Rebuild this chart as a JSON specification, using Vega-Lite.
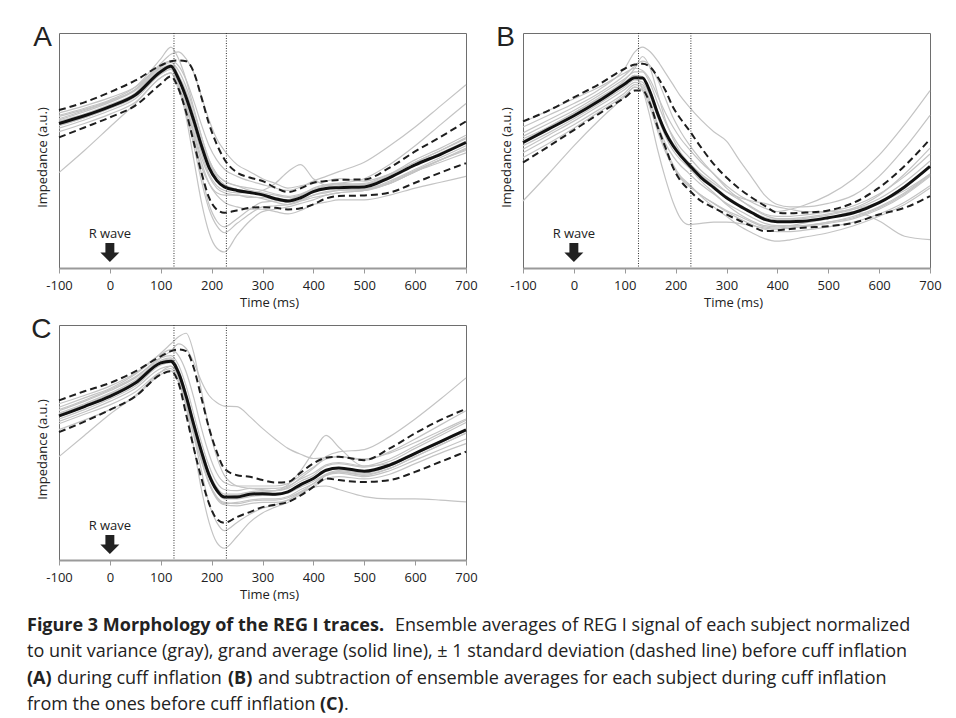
{
  "$schema": "https://vega.github.io/schema/vega-lite/v6.json",
  "padding": {"left": 27, "top": 23, "right": 5, "bottom": 5},
  "background": "white",
  "config": {
    "view": {"stroke": "#6e6e6e", "strokeWidth": 1},
    "axisX": {"grid": false, "tickCount": 8, "domainColor": "#9a9a9a", "domainWidth": 2, "tickColor": "#9a9a9a", "tickSize": 5,
      "labelFont": "Open Sans", "labelFontSize": 13, "labelColor": "#222", "labelPadding": 6, "labelFlush": false, "labelOverlap": false,
      "labelExpr": "'' + datum.value",
      "titleFont": "Open Sans", "titleFontSize": 13, "titleFontWeight": "normal", "titleColor": "#222",
      "titleX": 210, "titleY": 38, "titleBaseline": "alphabetic", "titleAlign": "center"},
    "axisY": {"grid": false, "labels": false, "ticks": false, "domain": false,
      "titleFont": "Open Sans", "titleFontSize": 13, "titleFontWeight": "normal", "titleColor": "#222",
      "titleX": -13, "titleY": 124, "titleBaseline": "alphabetic", "titleAlign": "center", "titleAngle": -90}
  },
  "datasets": {
    "traces": [
      {"p":"A","t":-100,"m":61.5,"u":67.2,"l":55.6,"g1":63,"g2":59.5,"g3":66,"g4":40.6,"g5":62,"g6":60.5,"g7":64.5,"g8":65,"g9":61,"g10":58,"g11":63.5,"g12":62.5},
      {"p":"A","t":-50,"m":64.8,"u":70.5,"l":59.8,"g1":66.5,"g2":63,"g3":69,"g4":50,"g5":65.5,"g6":64,"g7":67.5,"g8":68,"g9":64,"g10":61.5,"g11":67,"g12":65.5},
      {"p":"A","t":0,"m":68.7,"u":74.8,"l":64.1,"g1":70.5,"g2":67,"g3":72.5,"g4":60,"g5":69.5,"g6":68,"g7":71,"g8":71.5,"g9":68,"g10":65.5,"g11":71,"g12":69},
      {"p":"A","t":50,"m":73.6,"u":79.8,"l":69.1,"g1":75.5,"g2":72,"g3":77,"g4":70,"g5":74.5,"g6":73,"g7":76,"g8":77,"g9":73,"g10":70.5,"g11":76,"g12":74},
      {"p":"A","t":100,"m":83.5,"u":86.2,"l":78.3,"g1":85.5,"g2":82.5,"g3":86,"g4":81,"g5":85,"g6":84,"g7":87,"g8":89,"g9":84,"g10":81,"g11":86.5,"g12":84.5},
      {"p":"A","t":120,"m":85.8,"u":88.0,"l":81.5,"g1":87.5,"g2":84.5,"g3":88,"g4":83,"g5":86,"g6":85,"g7":91,"g8":94,"g9":86,"g10":83,"g11":88,"g12":86.5},
      {"p":"A","t":135,"m":80.5,"u":88.3,"l":76.2,"g1":84,"g2":78,"g3":86,"g4":76,"g5":78,"g6":77,"g7":92,"g8":89,"g9":80,"g10":77,"g11":81,"g12":82},
      {"p":"A","t":150,"m":72.6,"u":88.0,"l":66.2,"g1":77,"g2":69,"g3":80,"g4":66,"g5":64,"g6":66,"g7":89,"g8":80,"g9":71,"g10":68,"g11":70,"g12":75},
      {"p":"A","t":165,"m":62.7,"u":83.3,"l":53.4,"g1":67,"g2":58,"g3":71,"g4":54,"g5":46,"g6":52,"g7":83,"g8":68,"g9":60,"g10":57,"g11":56,"g12":65},
      {"p":"A","t":180,"m":52.0,"u":72.6,"l":40.6,"g1":56,"g2":47,"g3":61,"g4":43,"g5":28,"g6":37,"g7":73,"g8":56,"g9":49,"g10":45,"g11":40,"g12":54},
      {"p":"A","t":195,"m":42.7,"u":61.3,"l":29.9,"g1":46,"g2":39,"g3":52,"g4":36,"g5":15,"g6":25,"g7":63,"g8":46,"g9":40,"g10":36,"g11":27,"g12":45},
      {"p":"A","t":210,"m":37.3,"u":52.7,"l":24.9,"g1":40,"g2":34,"g3":46,"g4":32,"g5":8.5,"g6":18,"g7":55,"g8":40,"g9":35,"g10":31,"g11":20,"g12":39},
      {"p":"A","t":225,"m":34.5,"u":46.3,"l":23.5,"g1":37,"g2":32,"g3":42,"g4":31,"g5":6.8,"g6":15,"g7":50,"g8":37,"g9":33,"g10":28,"g11":17.5,"g12":35.5},
      {"p":"A","t":250,"m":33.0,"u":40.6,"l":24.5,"g1":35,"g2":31,"g3":39,"g4":31,"g5":14,"g6":19,"g7":44,"g8":35,"g9":32,"g10":26,"g11":21,"g12":33.5},
      {"p":"A","t":275,"m":32.1,"u":38.5,"l":25.6,"g1":34,"g2":30.5,"g3":37,"g4":30,"g5":20,"g6":23,"g7":41,"g8":33,"g9":32,"g10":25,"g11":25,"g12":32.5},
      {"p":"A","t":300,"m":31.1,"u":37.0,"l":25.9,"g1":33,"g2":29.5,"g3":35.5,"g4":30,"g5":24,"g6":26,"g7":38,"g8":32,"g9":33,"g10":25,"g11":28,"g12":31.5},
      {"p":"A","t":325,"m":29.5,"u":34.2,"l":25.6,"g1":31.5,"g2":28,"g3":34,"g4":29,"g5":25,"g6":26.5,"g7":36,"g8":31,"g9":36,"g10":24,"g11":28.5,"g12":30},
      {"p":"A","t":350,"m":28.5,"u":32.3,"l":24.9,"g1":30.5,"g2":27,"g3":33,"g4":28,"g5":26,"g6":27,"g7":34,"g8":30,"g9":41,"g10":23,"g11":29,"g12":29},
      {"p":"A","t":375,"m":29.9,"u":33.9,"l":25.4,"g1":31.5,"g2":28.5,"g3":34.5,"g4":28.5,"g5":27.5,"g6":29,"g7":35,"g8":31,"g9":44,"g10":24.5,"g11":31,"g12":31},
      {"p":"A","t":400,"m":32.5,"u":36.3,"l":27.1,"g1":33.5,"g2":31,"g3":37,"g4":30,"g5":29,"g6":31,"g7":36,"g8":33,"g9":38,"g10":27,"g11":33,"g12":34},
      {"p":"A","t":425,"m":33.8,"u":37.0,"l":29.6,"g1":35,"g2":32.5,"g3":39,"g4":31,"g5":31,"g6":32,"g7":37,"g8":34,"g9":35,"g10":28,"g11":35,"g12":35.5},
      {"p":"A","t":450,"m":34.2,"u":37.5,"l":30.6,"g1":35.5,"g2":33,"g3":41,"g4":32,"g5":32,"g6":33,"g7":38,"g8":35,"g9":34,"g10":29,"g11":36,"g12":36},
      {"p":"A","t":500,"m":34.5,"u":37.7,"l":30.9,"g1":36,"g2":33.5,"g3":45,"g4":33,"g5":33,"g6":33.5,"g7":37,"g8":35.5,"g9":33,"g10":29,"g11":38,"g12":35.5},
      {"p":"A","t":550,"m":38.5,"u":42.7,"l":32.1,"g1":40,"g2":36.5,"g3":52,"g4":36,"g5":36,"g6":37,"g7":40,"g8":39,"g9":36,"g10":31,"g11":44,"g12":39.5},
      {"p":"A","t":600,"m":43.9,"u":49.6,"l":36.3,"g1":46,"g2":41.5,"g3":60,"g4":41,"g5":41,"g6":42,"g7":45,"g8":44,"g9":41,"g10":34,"g11":52,"g12":45},
      {"p":"A","t":650,"m":48.4,"u":55.8,"l":40.6,"g1":51,"g2":46,"g3":69,"g4":45,"g5":46,"g6":47,"g7":50,"g8":49,"g9":46,"g10":36.5,"g11":61,"g12":50},
      {"p":"A","t":700,"m":53.4,"u":62.4,"l":44.6,"g1":56.5,"g2":50.5,"g3":78,"g4":49,"g5":51,"g6":52,"g7":55,"g8":54,"g9":50,"g10":39,"g11":70,"g12":55.5},

      {"p":"B","t":-100,"m":53.4,"u":62.4,"l":44.9,"g1":56,"g2":50.5,"g3":28.5,"g4":60,"g5":55,"g6":62,"g7":52,"g8":49,"g9":57.5,"g10":54,"g11":47,"g12":53.5},
      {"p":"B","t":-50,"m":59.1,"u":67.0,"l":51.7,"g1":61.5,"g2":56.5,"g3":40,"g4":65,"g5":60,"g6":67,"g7":57.5,"g8":55,"g9":63,"g10":60,"g11":53,"g12":59},
      {"p":"B","t":0,"m":64.8,"u":72.6,"l":58.7,"g1":67,"g2":62.5,"g3":52,"g4":70,"g5":66,"g6":72,"g7":63.5,"g8":61,"g9":68.5,"g10":66,"g11":59.5,"g12":65},
      {"p":"B","t":50,"m":71.2,"u":78.3,"l":65.7,"g1":73.5,"g2":69,"g3":63,"g4":76,"g5":72,"g6":77,"g7":70,"g8":67.5,"g9":74.5,"g10":72.5,"g11":66.5,"g12":71.5},
      {"p":"B","t":100,"m":78.3,"u":84.8,"l":72.5,"g1":80.5,"g2":76,"g3":73,"g4":85,"g5":79,"g6":83,"g7":77,"g8":74.5,"g9":82,"g10":80,"g11":73.5,"g12":79},
      {"p":"B","t":120,"m":81.0,"u":86.6,"l":75.5,"g1":83.5,"g2":79,"g3":77,"g4":92,"g5":82,"g6":85,"g7":80,"g8":78,"g9":86,"g10":85,"g11":77,"g12":82},
      {"p":"B","t":135,"m":80.9,"u":86.9,"l":75.5,"g1":83.5,"g2":78,"g3":76,"g4":94,"g5":76,"g6":84,"g7":79,"g8":77,"g9":88,"g10":90,"g11":75.5,"g12":81.5},
      {"p":"B","t":150,"m":74.8,"u":85.5,"l":69.8,"g1":78.5,"g2":71,"g3":70,"g4":92,"g5":64,"g6":80,"g7":73,"g8":70,"g9":86,"g10":85,"g11":68,"g12":75.5},
      {"p":"B","t":165,"m":65.5,"u":81.2,"l":59.8,"g1":70,"g2":61,"g3":60,"g4":88,"g5":50,"g6":73,"g7":64,"g8":60,"g9":80,"g10":74,"g11":58,"g12":66.5},
      {"p":"B","t":180,"m":57.7,"u":75.5,"l":51.3,"g1":62,"g2":53,"g3":50,"g4":83,"g5":38,"g6":66,"g7":56,"g8":51,"g9":72,"g10":63,"g11":49.5,"g12":58.5},
      {"p":"B","t":195,"m":52.0,"u":68.4,"l":42.7,"g1":56,"g2":47.5,"g3":43,"g4":78,"g5":28,"g6":60,"g7":50,"g8":44,"g9":64,"g10":55,"g11":43,"g12":53},
      {"p":"B","t":210,"m":47.7,"u":63.4,"l":37.0,"g1":51,"g2":43.5,"g3":38,"g4":73,"g5":21,"g6":55,"g7":46,"g8":39,"g9":58,"g10":49,"g11":38.5,"g12":48.5},
      {"p":"B","t":225,"m":44.2,"u":59.1,"l":33.5,"g1":47.5,"g2":40.5,"g3":35,"g4":69,"g5":18.5,"g6":51,"g7":43,"g8":36,"g9":53,"g10":45,"g11":35.5,"g12":45},
      {"p":"B","t":250,"m":38.5,"u":51.3,"l":28.5,"g1":41.5,"g2":35.5,"g3":31,"g4":63,"g5":19,"g6":45,"g7":37,"g8":30.5,"g9":46,"g10":40,"g11":31,"g12":39.5},
      {"p":"B","t":275,"m":34.2,"u":44.2,"l":25.6,"g1":37,"g2":31.5,"g3":27.5,"g4":58,"g5":19.5,"g6":40,"g7":32,"g8":26,"g9":40,"g10":36,"g11":27.5,"g12":35},
      {"p":"B","t":300,"m":29.9,"u":38.5,"l":22.8,"g1":32.5,"g2":27.5,"g3":24.5,"g4":54,"g5":19.5,"g6":35,"g7":27,"g8":22,"g9":34,"g10":32.5,"g11":24,"g12":30.5},
      {"p":"B","t":325,"m":26.5,"u":33.8,"l":20.2,"g1":29,"g2":24.5,"g3":22,"g4":46,"g5":19,"g6":31,"g7":23,"g8":18,"g9":29.5,"g10":30,"g11":21,"g12":27},
      {"p":"B","t":350,"m":23.5,"u":29.9,"l":17.8,"g1":26,"g2":21.5,"g3":19.5,"g4":38.5,"g5":18,"g6":28,"g7":20,"g8":15,"g9":25.5,"g10":28.5,"g11":18.5,"g12":24},
      {"p":"B","t":375,"m":20.7,"u":26.5,"l":15.7,"g1":23,"g2":19,"g3":17.5,"g4":31,"g5":17,"g6":25.5,"g7":18,"g8":12.5,"g9":22.5,"g10":27.5,"g11":16.5,"g12":21.5},
      {"p":"B","t":400,"m":19.7,"u":23.5,"l":16.0,"g1":22,"g2":18,"g3":17,"g4":27,"g5":16.5,"g6":24,"g7":17.5,"g8":11.4,"g9":21,"g10":26,"g11":15.5,"g12":20.5},
      {"p":"B","t":425,"m":19.7,"u":23.3,"l":16.6,"g1":22,"g2":18,"g3":17.5,"g4":26,"g5":17,"g6":25,"g7":18,"g8":12,"g9":21,"g10":25,"g11":15.5,"g12":20.5},
      {"p":"B","t":450,"m":19.9,"u":23.5,"l":17.1,"g1":22.5,"g2":18,"g3":18,"g4":26,"g5":17.5,"g6":26.5,"g7":19,"g8":13,"g9":21.5,"g10":24,"g11":16,"g12":21},
      {"p":"B","t":500,"m":21.4,"u":24.5,"l":17.8,"g1":24,"g2":19.5,"g3":19.5,"g4":27.5,"g5":19,"g6":31,"g7":21,"g8":15,"g9":23,"g10":24,"g11":17.5,"g12":22.5},
      {"p":"B","t":550,"m":23.5,"u":27.8,"l":19.2,"g1":26.5,"g2":21.5,"g3":22,"g4":31,"g5":21,"g6":38,"g7":24,"g8":18,"g9":25.5,"g10":25,"g11":19.5,"g12":25},
      {"p":"B","t":600,"m":27.8,"u":34.2,"l":22.8,"g1":31.5,"g2":25.5,"g3":26,"g4":39,"g5":25,"g6":48,"g7":20,"g8":22,"g9":31,"g10":28,"g11":23,"g12":29.5},
      {"p":"B","t":650,"m":34.5,"u":43.4,"l":25.6,"g1":39,"g2":31.5,"g3":32,"g4":51,"g5":31,"g6":61,"g7":13.5,"g8":27,"g9":40,"g10":33,"g11":28,"g12":36.5},
      {"p":"B","t":700,"m":43.2,"u":54.8,"l":30.6,"g1":48.5,"g2":39.5,"g3":40,"g4":65,"g5":39,"g6":75.5,"g7":12.1,"g8":34,"g9":51,"g10":40,"g11":35,"g12":45.5},

      {"p":"C","t":-100,"m":61.3,"u":67.9,"l":54.4,"g1":63.5,"g2":59,"g3":44,"g4":64,"g5":61,"g6":65,"g7":58,"g8":62.5,"g9":60,"g10":62,"g11":66.5,"g12":55.5},
      {"p":"C","t":-50,"m":65.3,"u":71.8,"l":58.9,"g1":67.5,"g2":63,"g3":53,"g4":68,"g5":65,"g6":69,"g7":62,"g8":66.5,"g9":64,"g10":66,"g11":70,"g12":59.5},
      {"p":"C","t":0,"m":69.6,"u":75.3,"l":63.9,"g1":72,"g2":67.5,"g3":62,"g4":72.5,"g5":69.5,"g6":73,"g7":66,"g8":71,"g9":68.5,"g10":70.5,"g11":74,"g12":64},
      {"p":"C","t":50,"m":75.3,"u":80.3,"l":69.6,"g1":77.5,"g2":73,"g3":70,"g4":78,"g5":75,"g6":79,"g7":71.5,"g8":76.5,"g9":74,"g10":76,"g11":79.5,"g12":69.5},
      {"p":"C","t":100,"m":83.9,"u":86.7,"l":78.9,"g1":86,"g2":81.5,"g3":80,"g4":86,"g5":84,"g6":88,"g7":80,"g8":85,"g9":83,"g10":84.5,"g11":87.5,"g12":79},
      {"p":"C","t":120,"m":84.6,"u":88.9,"l":80.3,"g1":87,"g2":82.5,"g3":82.5,"g4":89,"g5":85,"g6":92,"g7":81.5,"g8":86,"g9":84,"g10":85.5,"g11":89.5,"g12":80.5},
      {"p":"C","t":135,"m":79.6,"u":89.6,"l":75.3,"g1":83,"g2":77,"g3":78,"g4":92,"g5":78,"g6":95,"g7":76,"g8":81,"g9":79,"g10":80,"g11":87,"g12":75.5},
      {"p":"C","t":150,"m":69.6,"u":88.9,"l":61.8,"g1":74,"g2":66,"g3":68,"g4":90,"g5":65,"g6":96.5,"g7":66,"g8":71,"g9":69.5,"g10":68,"g11":80,"g12":66},
      {"p":"C","t":165,"m":57.5,"u":81.7,"l":47.5,"g1":62,"g2":53,"g3":56,"g4":84,"g5":48,"g6":88,"g7":54,"g8":59,"g9":57,"g10":53,"g11":69,"g12":54},
      {"p":"C","t":180,"m":46.1,"u":68.9,"l":34.7,"g1":50,"g2":42,"g3":45,"g4":76,"g5":30,"g6":72,"g7":43,"g8":47.5,"g9":45.5,"g10":38,"g11":56,"g12":42.5},
      {"p":"C","t":195,"m":36.1,"u":56.1,"l":24.0,"g1":40,"g2":32.5,"g3":35.5,"g4":70,"g5":16,"g6":56,"g7":33,"g8":37.5,"g9":35.5,"g10":24,"g11":45,"g12":32.5},
      {"p":"C","t":210,"m":29.7,"u":46.1,"l":17.5,"g1":33,"g2":26.5,"g3":29,"g4":67,"g5":7.5,"g6":44,"g7":27,"g8":31,"g9":29.5,"g10":16,"g11":37,"g12":26},
      {"p":"C","t":225,"m":26.8,"u":38.9,"l":15.8,"g1":30,"g2":24,"g3":26,"g4":65.5,"g5":5,"g6":36,"g7":24.5,"g8":28,"g9":27,"g10":12.5,"g11":33,"g12":23.5},
      {"p":"C","t":250,"m":26.8,"u":36.1,"l":18.3,"g1":29.5,"g2":24.5,"g3":26,"g4":65.3,"g5":10,"g6":31.5,"g7":24,"g8":28,"g9":27.5,"g10":16,"g11":31.5,"g12":23},
      {"p":"C","t":275,"m":28.0,"u":35.4,"l":20.4,"g1":30.5,"g2":25.5,"g3":27,"g4":61,"g5":16,"g6":30.5,"g7":25,"g8":29,"g9":28.5,"g10":19.5,"g11":31.5,"g12":24},
      {"p":"C","t":300,"m":28.2,"u":34.0,"l":22.5,"g1":30.5,"g2":26,"g3":27.5,"g4":56,"g5":20,"g6":30,"g7":25.5,"g8":29.5,"g9":29,"g10":22,"g11":31.5,"g12":24.5},
      {"p":"C","t":325,"m":28.0,"u":33.0,"l":23.5,"g1":30.5,"g2":26,"g3":27.5,"g4":51.5,"g5":22.5,"g6":29.5,"g7":25.5,"g8":29.5,"g9":29.5,"g10":23.5,"g11":31.5,"g12":24.5},
      {"p":"C","t":350,"m":29.0,"u":33.2,"l":24.7,"g1":31.5,"g2":27,"g3":28.5,"g4":47.5,"g5":24.5,"g6":30.5,"g7":26.5,"g8":31,"g9":32,"g10":25.5,"g11":32.5,"g12":25.5},
      {"p":"C","t":375,"m":32.1,"u":37.2,"l":27.5,"g1":34.5,"g2":30,"g3":31,"g4":45,"g5":28,"g6":33.5,"g7":29,"g8":35,"g9":38,"g10":29,"g11":36,"g12":28.5},
      {"p":"C","t":400,"m":34.7,"u":41.1,"l":31.1,"g1":37,"g2":32.5,"g3":33.5,"g4":43.2,"g5":31.5,"g6":36,"g7":31,"g8":39,"g9":46,"g10":32.5,"g11":39.5,"g12":31},
      {"p":"C","t":425,"m":38.2,"u":43.5,"l":34.7,"g1":40.5,"g2":36,"g3":36.5,"g4":43.5,"g5":36,"g6":40,"g7":31.5,"g8":44,"g9":53,"g10":36.5,"g11":43,"g12":34.5},
      {"p":"C","t":450,"m":39.2,"u":43.9,"l":34.0,"g1":41.5,"g2":37,"g3":37.5,"g4":44,"g5":37.5,"g6":41,"g7":30,"g8":46,"g9":48,"g10":38,"g11":44,"g12":35.5},
      {"p":"C","t":500,"m":37.8,"u":42.5,"l":33.2,"g1":40,"g2":35.5,"g3":36.5,"g4":43,"g5":36,"g6":39.5,"g7":27,"g8":47,"g9":40,"g10":37,"g11":42.5,"g12":34.5},
      {"p":"C","t":550,"m":40.4,"u":47.5,"l":34.0,"g1":43,"g2":38,"g3":39,"g4":45.5,"g5":39,"g6":42,"g7":26,"g8":52.5,"g9":41,"g10":40,"g11":46,"g12":36.5},
      {"p":"C","t":600,"m":45.4,"u":53.9,"l":37.5,"g1":48.5,"g2":42.5,"g3":44,"g4":50,"g5":44,"g6":47.5,"g7":26,"g8":60,"g9":45.5,"g10":45,"g11":51.5,"g12":41},
      {"p":"C","t":650,"m":50.4,"u":59.6,"l":41.8,"g1":54,"g2":47,"g3":49,"g4":55,"g5":49,"g6":53,"g7":25.5,"g8":68.5,"g9":50,"g10":50,"g11":57.5,"g12":45.5},
      {"p":"C","t":700,"m":55.4,"u":64.3,"l":46.1,"g1":59.5,"g2":51.5,"g3":54,"g4":60,"g5":54,"g6":58.5,"g7":24.7,"g8":77.5,"g9":55,"g10":55.5,"g11":63.5,"g12":49.5}
    ],
    "caption": [
      {"line": 1, "seg": 1, "text": "Figure 3 Morphology of the REG I traces."},
      {"line": 1, "seg": 2, "text": "Ensemble averages of REG I signal of each subject normalized"},
      {"line": 2, "seg": 1, "text": "to unit variance (gray), grand average (solid line), ± 1 standard deviation (dashed line) before cuff inflation"},
      {"line": 3, "seg": 1, "text": "(A)"},
      {"line": 3, "seg": 2, "text": "during cuff inflation"},
      {"line": 3, "seg": 3, "text": "(B)"},
      {"line": 3, "seg": 4, "text": "and subtraction of ensemble averages for each subject during cuff inflation"},
      {"line": 4, "seg": 1, "text": "from the ones before cuff inflation"},
      {"line": 4, "seg": 2, "text": "(C)"},
      {"line": 4, "seg": 3, "text": "."}
    ]
  },
  "vconcat": [
    {
      "hconcat": [
        {
          "width": 407, "height": 235,
          "layer": [
            {"data": {"name": "traces"},
             "transform": [{"filter": "datum.p == 'A'"}, {"fold": ["g1","g2","g3","g4","g5","g6","g7","g8","g9","g10","g11","g12"], "as": ["s","v"]}],
             "mark": {"type": "line", "stroke": "#c4c4c4", "strokeWidth": 1.2, "interpolate": "monotone"},
             "encoding": {
               "x": {"field": "t", "type": "quantitative", "title": "Time (ms)", "scale": {"domain": [-100, 700], "nice": false, "zero": false}},
               "y": {"field": "v", "type": "quantitative", "title": "Impedance (a.u.)", "scale": {"domain": [0, 100], "nice": false, "zero": false}},
               "detail": {"field": "s"}}},
            {"data": {"name": "traces"},
             "transform": [{"filter": "datum.p == 'A'"}, {"fold": ["u","l"], "as": ["s","v"]}],
             "mark": {"type": "line", "stroke": "#1e1e1e", "strokeWidth": 2, "strokeDash": [7, 4], "interpolate": "monotone"},
             "encoding": {
               "x": {"field": "t", "type": "quantitative", "title": "Time (ms)", "scale": {"domain": [-100, 700], "nice": false, "zero": false}},
               "y": {"field": "v", "type": "quantitative", "title": "Impedance (a.u.)", "scale": {"domain": [0, 100], "nice": false, "zero": false}},
               "detail": {"field": "s"}}},
            {"data": {"name": "traces"},
             "transform": [{"filter": "datum.p == 'A'"}],
             "mark": {"type": "line", "stroke": "#111", "strokeWidth": 3, "interpolate": "monotone"},
             "encoding": {
               "x": {"field": "t", "type": "quantitative", "title": "Time (ms)", "scale": {"domain": [-100, 700], "nice": false, "zero": false}},
               "y": {"field": "m", "type": "quantitative", "title": "Impedance (a.u.)", "scale": {"domain": [0, 100], "nice": false, "zero": false}}}},
            {"data": {"values": [{"t": 126}, {"t": 229}]},
             "mark": {"type": "rule", "stroke": "#333", "strokeWidth": 1, "strokeDash": [1, 1.5]},
             "encoding": {
               "x": {"field": "t", "type": "quantitative", "title": "Time (ms)", "scale": {"domain": [-100, 700], "nice": false, "zero": false}}}},
            {"data": {"values": [{"label": "R wave"}]},
             "mark": {"type": "point", "shape": "M-0.47,-1L0.47,-1L0.47,0L1,0L0,1L-1,0L-0.47,0Z", "size": 361, "filled": true, "color": "#222", "opacity": 1, "strokeWidth": 0},
             "encoding": {
               "x": {"datum": 0, "type": "quantitative", "title": "Time (ms)", "scale": {"domain": [-100, 700], "nice": false, "zero": false}},
               "y": {"datum": 6.6, "type": "quantitative", "title": "Impedance (a.u.)", "scale": {"domain": [0, 100], "nice": false, "zero": false}}}},
            {"data": {"values": [{"label": "R wave"}]},
             "mark": {"type": "text", "font": "Open Sans", "fontSize": 13, "color": "#222", "align": "center", "baseline": "alphabetic"},
             "encoding": {
               "x": {"datum": 0, "type": "quantitative", "title": "Time (ms)", "scale": {"domain": [-100, 700], "nice": false, "zero": false}},
               "y": {"datum": 12.6, "type": "quantitative", "title": "Impedance (a.u.)", "scale": {"domain": [0, 100], "nice": false, "zero": false}},
               "text": {"field": "label"}}},
            {"data": {"values": [{"label": "A"}]},
             "mark": {"type": "text", "font": "Liberation Sans", "fontSize": 28, "color": "#222", "align": "right", "baseline": "alphabetic", "dx": -7, "dy": 13},
             "encoding": {
               "x": {"datum": -100, "type": "quantitative", "title": "Time (ms)", "scale": {"domain": [-100, 700], "nice": false, "zero": false}},
               "y": {"datum": 100, "type": "quantitative", "title": "Impedance (a.u.)", "scale": {"domain": [0, 100], "nice": false, "zero": false}},
               "text": {"field": "label"}}}
          ]
        },
        {
          "width": 407, "height": 235,
          "layer": [
            {"data": {"name": "traces"},
             "transform": [{"filter": "datum.p == 'B'"}, {"fold": ["g1","g2","g3","g4","g5","g6","g7","g8","g9","g10","g11","g12"], "as": ["s","v"]}],
             "mark": {"type": "line", "stroke": "#c4c4c4", "strokeWidth": 1.2, "interpolate": "monotone"},
             "encoding": {
               "x": {"field": "t", "type": "quantitative", "title": "Time (ms)", "scale": {"domain": [-100, 700], "nice": false, "zero": false}},
               "y": {"field": "v", "type": "quantitative", "title": "Impedance (a.u.)", "scale": {"domain": [0, 100], "nice": false, "zero": false}},
               "detail": {"field": "s"}}},
            {"data": {"name": "traces"},
             "transform": [{"filter": "datum.p == 'B'"}, {"fold": ["u","l"], "as": ["s","v"]}],
             "mark": {"type": "line", "stroke": "#1e1e1e", "strokeWidth": 2, "strokeDash": [7, 4], "interpolate": "monotone"},
             "encoding": {
               "x": {"field": "t", "type": "quantitative", "title": "Time (ms)", "scale": {"domain": [-100, 700], "nice": false, "zero": false}},
               "y": {"field": "v", "type": "quantitative", "title": "Impedance (a.u.)", "scale": {"domain": [0, 100], "nice": false, "zero": false}},
               "detail": {"field": "s"}}},
            {"data": {"name": "traces"},
             "transform": [{"filter": "datum.p == 'B'"}],
             "mark": {"type": "line", "stroke": "#111", "strokeWidth": 3, "interpolate": "monotone"},
             "encoding": {
               "x": {"field": "t", "type": "quantitative", "title": "Time (ms)", "scale": {"domain": [-100, 700], "nice": false, "zero": false}},
               "y": {"field": "m", "type": "quantitative", "title": "Impedance (a.u.)", "scale": {"domain": [0, 100], "nice": false, "zero": false}}}},
            {"data": {"values": [{"t": 127}, {"t": 230}]},
             "mark": {"type": "rule", "stroke": "#333", "strokeWidth": 1, "strokeDash": [1, 1.5]},
             "encoding": {
               "x": {"field": "t", "type": "quantitative", "title": "Time (ms)", "scale": {"domain": [-100, 700], "nice": false, "zero": false}}}},
            {"data": {"values": [{"label": "R wave"}]},
             "mark": {"type": "point", "shape": "M-0.47,-1L0.47,-1L0.47,0L1,0L0,1L-1,0L-0.47,0Z", "size": 361, "filled": true, "color": "#222", "opacity": 1, "strokeWidth": 0},
             "encoding": {
               "x": {"datum": 0, "type": "quantitative", "title": "Time (ms)", "scale": {"domain": [-100, 700], "nice": false, "zero": false}},
               "y": {"datum": 6.6, "type": "quantitative", "title": "Impedance (a.u.)", "scale": {"domain": [0, 100], "nice": false, "zero": false}}}},
            {"data": {"values": [{"label": "R wave"}]},
             "mark": {"type": "text", "font": "Open Sans", "fontSize": 13, "color": "#222", "align": "center", "baseline": "alphabetic"},
             "encoding": {
               "x": {"datum": 0, "type": "quantitative", "title": "Time (ms)", "scale": {"domain": [-100, 700], "nice": false, "zero": false}},
               "y": {"datum": 12.6, "type": "quantitative", "title": "Impedance (a.u.)", "scale": {"domain": [0, 100], "nice": false, "zero": false}},
               "text": {"field": "label"}}},
            {"data": {"values": [{"label": "B"}]},
             "mark": {"type": "text", "font": "Liberation Sans", "fontSize": 28, "color": "#222", "align": "right", "baseline": "alphabetic", "dx": -8, "dy": 13},
             "encoding": {
               "x": {"datum": -100, "type": "quantitative", "title": "Time (ms)", "scale": {"domain": [-100, 700], "nice": false, "zero": false}},
               "y": {"datum": 100, "type": "quantitative", "title": "Impedance (a.u.)", "scale": {"domain": [0, 100], "nice": false, "zero": false}},
               "text": {"field": "label"}}}
          ]
        }
      ],
      "spacing": 57,
      "bounds": "flush"
    },
    {
      "vconcat": [
        {
          "width": 407, "height": 235,
          "layer": [
            {"data": {"name": "traces"},
             "transform": [{"filter": "datum.p == 'C'"}, {"fold": ["g1","g2","g3","g4","g5","g6","g7","g8","g9","g10","g11","g12"], "as": ["s","v"]}],
             "mark": {"type": "line", "stroke": "#c4c4c4", "strokeWidth": 1.2, "interpolate": "monotone"},
             "encoding": {
               "x": {"field": "t", "type": "quantitative", "title": "Time (ms)", "scale": {"domain": [-100, 700], "nice": false, "zero": false}},
               "y": {"field": "v", "type": "quantitative", "title": "Impedance (a.u.)", "scale": {"domain": [0, 100], "nice": false, "zero": false}},
               "detail": {"field": "s"}}},
            {"data": {"name": "traces"},
             "transform": [{"filter": "datum.p == 'C'"}, {"fold": ["u","l"], "as": ["s","v"]}],
             "mark": {"type": "line", "stroke": "#1e1e1e", "strokeWidth": 2, "strokeDash": [7, 4], "interpolate": "monotone"},
             "encoding": {
               "x": {"field": "t", "type": "quantitative", "title": "Time (ms)", "scale": {"domain": [-100, 700], "nice": false, "zero": false}},
               "y": {"field": "v", "type": "quantitative", "title": "Impedance (a.u.)", "scale": {"domain": [0, 100], "nice": false, "zero": false}},
               "detail": {"field": "s"}}},
            {"data": {"name": "traces"},
             "transform": [{"filter": "datum.p == 'C'"}],
             "mark": {"type": "line", "stroke": "#111", "strokeWidth": 3, "interpolate": "monotone"},
             "encoding": {
               "x": {"field": "t", "type": "quantitative", "title": "Time (ms)", "scale": {"domain": [-100, 700], "nice": false, "zero": false}},
               "y": {"field": "m", "type": "quantitative", "title": "Impedance (a.u.)", "scale": {"domain": [0, 100], "nice": false, "zero": false}}}},
            {"data": {"values": [{"t": 126}, {"t": 229}]},
             "mark": {"type": "rule", "stroke": "#333", "strokeWidth": 1, "strokeDash": [1, 1.5]},
             "encoding": {
               "x": {"field": "t", "type": "quantitative", "title": "Time (ms)", "scale": {"domain": [-100, 700], "nice": false, "zero": false}}}},
            {"data": {"values": [{"label": "R wave"}]},
             "mark": {"type": "point", "shape": "M-0.47,-1L0.47,-1L0.47,0L1,0L0,1L-1,0L-0.47,0Z", "size": 361, "filled": true, "color": "#222", "opacity": 1, "strokeWidth": 0},
             "encoding": {
               "x": {"datum": 0, "type": "quantitative", "title": "Time (ms)", "scale": {"domain": [-100, 700], "nice": false, "zero": false}},
               "y": {"datum": 6.6, "type": "quantitative", "title": "Impedance (a.u.)", "scale": {"domain": [0, 100], "nice": false, "zero": false}}}},
            {"data": {"values": [{"label": "R wave"}]},
             "mark": {"type": "text", "font": "Open Sans", "fontSize": 13, "color": "#222", "align": "center", "baseline": "alphabetic"},
             "encoding": {
               "x": {"datum": 0, "type": "quantitative", "title": "Time (ms)", "scale": {"domain": [-100, 700], "nice": false, "zero": false}},
               "y": {"datum": 12.6, "type": "quantitative", "title": "Impedance (a.u.)", "scale": {"domain": [0, 100], "nice": false, "zero": false}},
               "text": {"field": "label"}}},
            {"data": {"values": [{"label": "C"}]},
             "mark": {"type": "text", "font": "Liberation Sans", "fontSize": 28, "color": "#222", "align": "right", "baseline": "alphabetic", "dx": -7.5, "dy": 13},
             "encoding": {
               "x": {"datum": -100, "type": "quantitative", "title": "Time (ms)", "scale": {"domain": [-100, 700], "nice": false, "zero": false}},
               "y": {"datum": 100, "type": "quantitative", "title": "Impedance (a.u.)", "scale": {"domain": [0, 100], "nice": false, "zero": false}},
               "text": {"field": "label"}}}
          ]
        },
        {
          "width": 407, "height": 79,
          "view": {"stroke": null},
          "data": {"name": "caption"},
          "encoding": {
            "x": {"datum": 0, "type": "quantitative", "scale": {"domain": [0, 1]}, "axis": null},
            "y": {"field": "line", "type": "quantitative", "scale": {"domain": [1, 4], "reverse": true, "nice": false, "zero": false}, "axis": null},
            "text": {"field": "text"}
          },
          "layer": [
            {"transform": [{"filter": "datum.seg == 1 && (datum.line == 1 || datum.line == 3)"}],
             "mark": {"type": "text", "font": "Open Sans", "fontSize": 18, "fontWeight": "bold", "color": "#222", "align": "left", "baseline": "alphabetic", "dx": -32}},
            {"transform": [{"filter": "datum.seg == 1 && (datum.line == 2 || datum.line == 4)"}],
             "mark": {"type": "text", "font": "Open Sans", "fontSize": 18, "color": "#222", "align": "left", "baseline": "alphabetic", "dx": -32}},
            {"transform": [{"filter": "datum.line == 1 && datum.seg == 2"}],
             "mark": {"type": "text", "font": "Open Sans", "fontSize": 18, "color": "#222", "align": "left", "baseline": "alphabetic", "dx": 336}},
            {"transform": [{"filter": "datum.line == 3 && datum.seg == 2"}],
             "mark": {"type": "text", "font": "Open Sans", "fontSize": 18, "color": "#222", "align": "left", "baseline": "alphabetic", "dx": -2}},
            {"transform": [{"filter": "datum.line == 3 && datum.seg == 3"}],
             "mark": {"type": "text", "font": "Open Sans", "fontSize": 18, "fontWeight": "bold", "color": "#222", "align": "left", "baseline": "alphabetic", "dx": 169}},
            {"transform": [{"filter": "datum.line == 3 && datum.seg == 4"}],
             "mark": {"type": "text", "font": "Open Sans", "fontSize": 18, "color": "#222", "align": "left", "baseline": "alphabetic", "dx": 199}},
            {"transform": [{"filter": "datum.line == 4 && datum.seg == 2"}],
             "mark": {"type": "text", "font": "Open Sans", "fontSize": 18, "fontWeight": "bold", "color": "#222", "align": "left", "baseline": "alphabetic", "dx": 261}},
            {"transform": [{"filter": "datum.line == 4 && datum.seg == 3"}],
             "mark": {"type": "text", "font": "Open Sans", "fontSize": 18, "color": "#222", "align": "left", "baseline": "alphabetic", "dx": 285}}
          ]
        }
      ],
      "spacing": 71,
      "bounds": "flush"
    }
  ],
  "spacing": 5
}
